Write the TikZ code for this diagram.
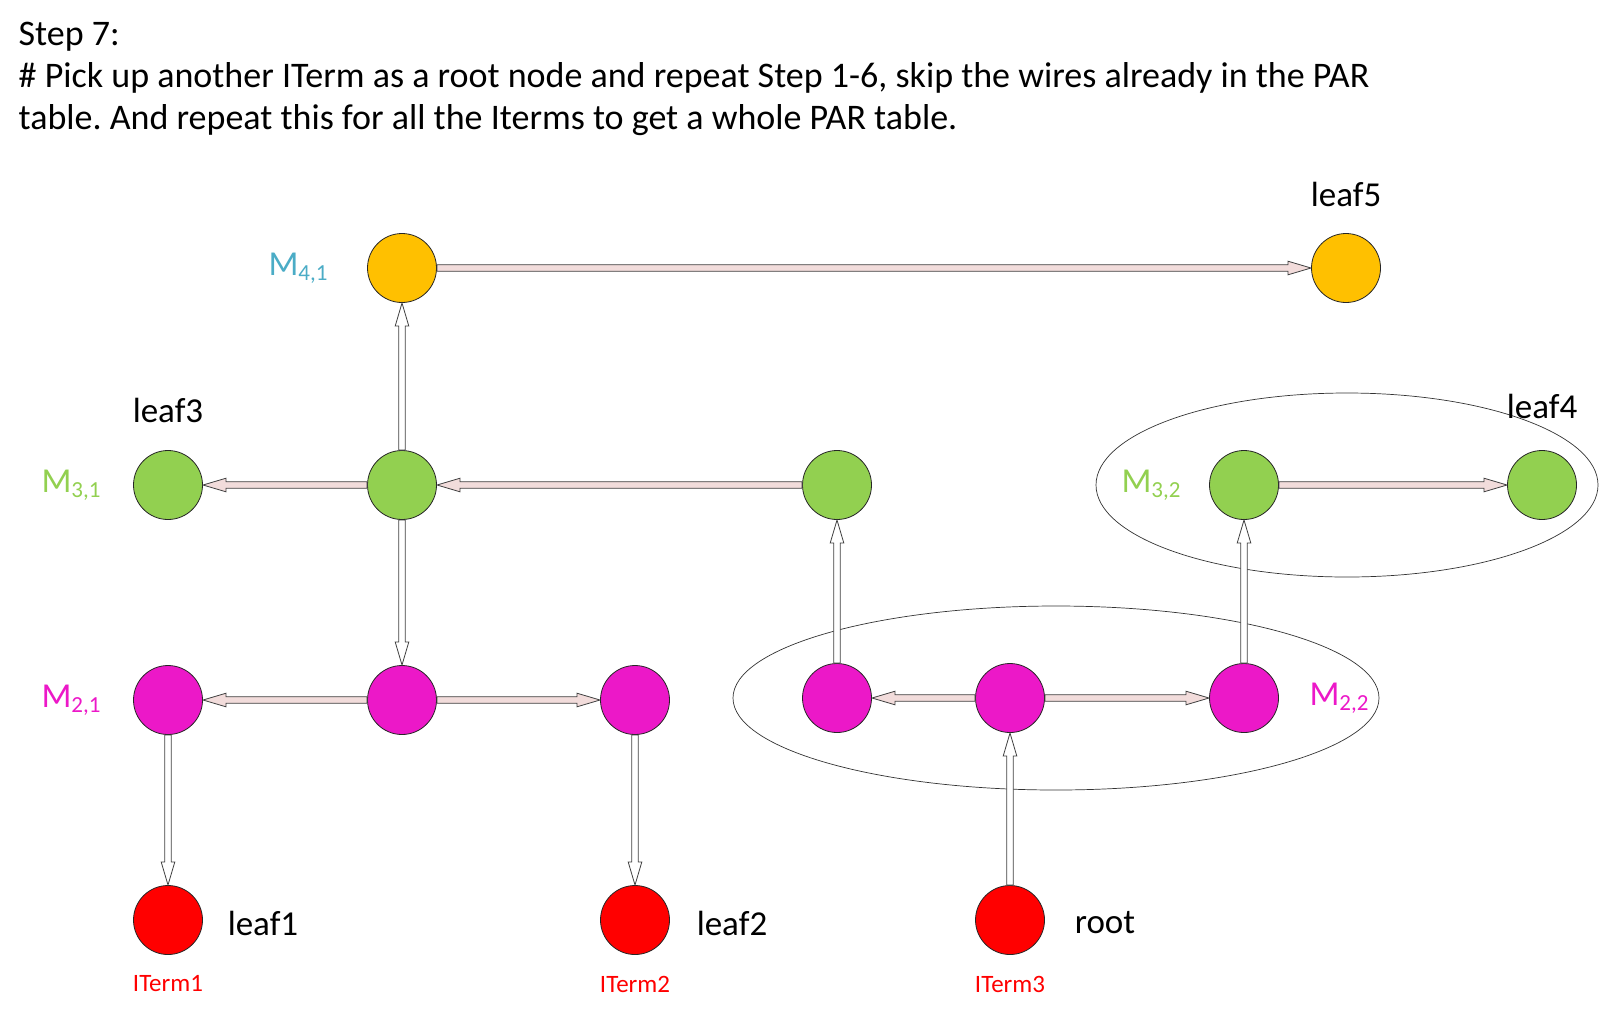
\documentclass[tikz,border=0pt]{standalone}
\usepackage{fontspec}
\setmainfont{Carlito}
\usetikzlibrary{calc}
\definecolor{cOrange}{HTML}{FFC000}
\definecolor{cGreen}{HTML}{92D050}
\definecolor{cMag}{HTML}{EC18C8}
\definecolor{cRed}{HTML}{FF0000}
\definecolor{cTeal}{HTML}{4BACC6}
\definecolor{cPink}{HTML}{F2DCDB}
\definecolor{cEdge}{HTML}{404040}
\frenchspacing
\newcommand\blkarrow[3]{%
 \draw[blkline, fill=#3] let \p1=(#1.center), \p2=(#2.center), \n1={atan2(\y2-\y1,\x2-\x1)} in
 ($(\p1)+(\n1:35pt)+(\n1+90:3.3pt)$) --
 ($(\p2)+(\n1+180:58pt)+(\n1+90:3.3pt)$) --
 ($(\p2)+(\n1+180:58pt)+(\n1+90:6.8pt)$) --
 ($(\p2)+(\n1+180:35pt)$) --
 ($(\p2)+(\n1+180:58pt)+(\n1-90:6.8pt)$) --
 ($(\p2)+(\n1+180:58pt)+(\n1-90:3.3pt)$) --
 ($(\p1)+(\n1:35pt)+(\n1-90:3.3pt)$) -- cycle;}
\newcommand\mlab[2]{M\raisebox{-5pt}{\fontsize{23}{23}\selectfont #1,#2}}
\begin{document}
\begin{tikzpicture}[x=1pt,y=-1pt,
  dot/.style={circle, draw=black!85, line width=0.8pt, minimum size=69pt, inner sep=0pt},
  blkline/.style={draw=cEdge, line width=0.8pt, line join=miter},
  head/.style={anchor=base west, inner sep=0pt, font=\fontsize{36}{36}\selectfont},
  lbl/.style={inner sep=0pt, font=\fontsize{35}{35}\selectfont},
  mlbl/.style={inner sep=0pt, font=\fontsize{35}{35}\selectfont},
  it/.style={inner sep=0pt, text=cRed, font=\fontsize{25}{25}\selectfont},
  ell/.style={draw=black!80, line width=0.7pt}]
\useasboundingbox (0,0) rectangle (1600,1010);
% heading
\node[head] (h1) at (18.5,45) {Step 7:};
\node[head] (h2) at (18.5,87) {\# Pick up another ITerm as a root node and repeat Step 1-6, skip the wires already in the PAR};
\node[head] (h3) at (18.5,129) {table. And repeat this for all the Iterms to get a whole PAR table.};
% ellipses
\draw[ell] (1056,698) ellipse [x radius=323, y radius=92];
\draw[ell] (1347,485) ellipse [x radius=251, y radius=92];
% nodes
\node[dot, fill=cOrange] (m41) at (402,268) {};
\node[dot, fill=cOrange] (l5) at (1346,268) {};
\node[dot, fill=cGreen] (g3) at (168,485) {};
\node[dot, fill=cGreen] (g0) at (402,485) {};
\node[dot, fill=cGreen] (g2) at (837,485) {};
\node[dot, fill=cGreen] (g4) at (1244,485) {};
\node[dot, fill=cGreen] (l4) at (1542,485) {};
\node[dot, fill=cMag] (p1) at (168,700) {};
\node[dot, fill=cMag] (p0) at (402,700) {};
\node[dot, fill=cMag] (p2) at (635,700) {};
\node[dot, fill=cMag] (q1) at (837,698) {};
\node[dot, fill=cMag] (q0) at (1010,698) {};
\node[dot, fill=cMag] (q2) at (1244,698) {};
\node[dot, fill=cRed] (r1) at (168,920) {};
\node[dot, fill=cRed] (r2) at (635,920) {};
\node[dot, fill=cRed] (r3) at (1010,920) {};
% arrows
\blkarrow{m41}{l5}{cPink}
\blkarrow{g0}{m41}{white}
\blkarrow{g0}{g3}{cPink}
\blkarrow{g2}{g0}{cPink}
\blkarrow{g0}{p0}{white}
\blkarrow{p0}{p1}{cPink}
\blkarrow{p0}{p2}{cPink}
\blkarrow{p1}{r1}{white}
\blkarrow{p2}{r2}{white}
\blkarrow{q1}{g2}{white}
\blkarrow{q0}{q1}{cPink}
\blkarrow{q0}{q2}{cPink}
\blkarrow{q2}{g4}{white}
\blkarrow{g4}{l4}{cPink}
\blkarrow{r3}{q0}{white}
% labels
\node[mlbl, text=cTeal] (t41) at (298,268) {\mlab{4}{1}};
\node[mlbl, text=cGreen] (t31) at (71,485) {\mlab{3}{1}};
\node[mlbl, text=cMag] (t21) at (71,700) {\mlab{2}{1}};
\node[mlbl, text=cGreen] (t32) at (1151,485) {\mlab{3}{2}};
\node[mlbl, text=cMag] (t22) at (1339,698) {\mlab{2}{2}};
\node[lbl] (n3) at (168,410) {leaf3};
\node[lbl] (n5) at (1346,194) {leaf5};
\node[lbl] (n4) at (1542,406) {leaf4};
\node[lbl] (n1) at (263,923) {leaf1};
\node[lbl] (n2) at (732,923) {leaf2};
\node[lbl] (nr) at (1105,923) {root};
\node[it] (i1) at (168,984) {ITerm1};
\node[it] (i2) at (635,984) {ITerm2};
\node[it] (i3) at (1010,984) {ITerm3};
\end{tikzpicture}
\end{document}
